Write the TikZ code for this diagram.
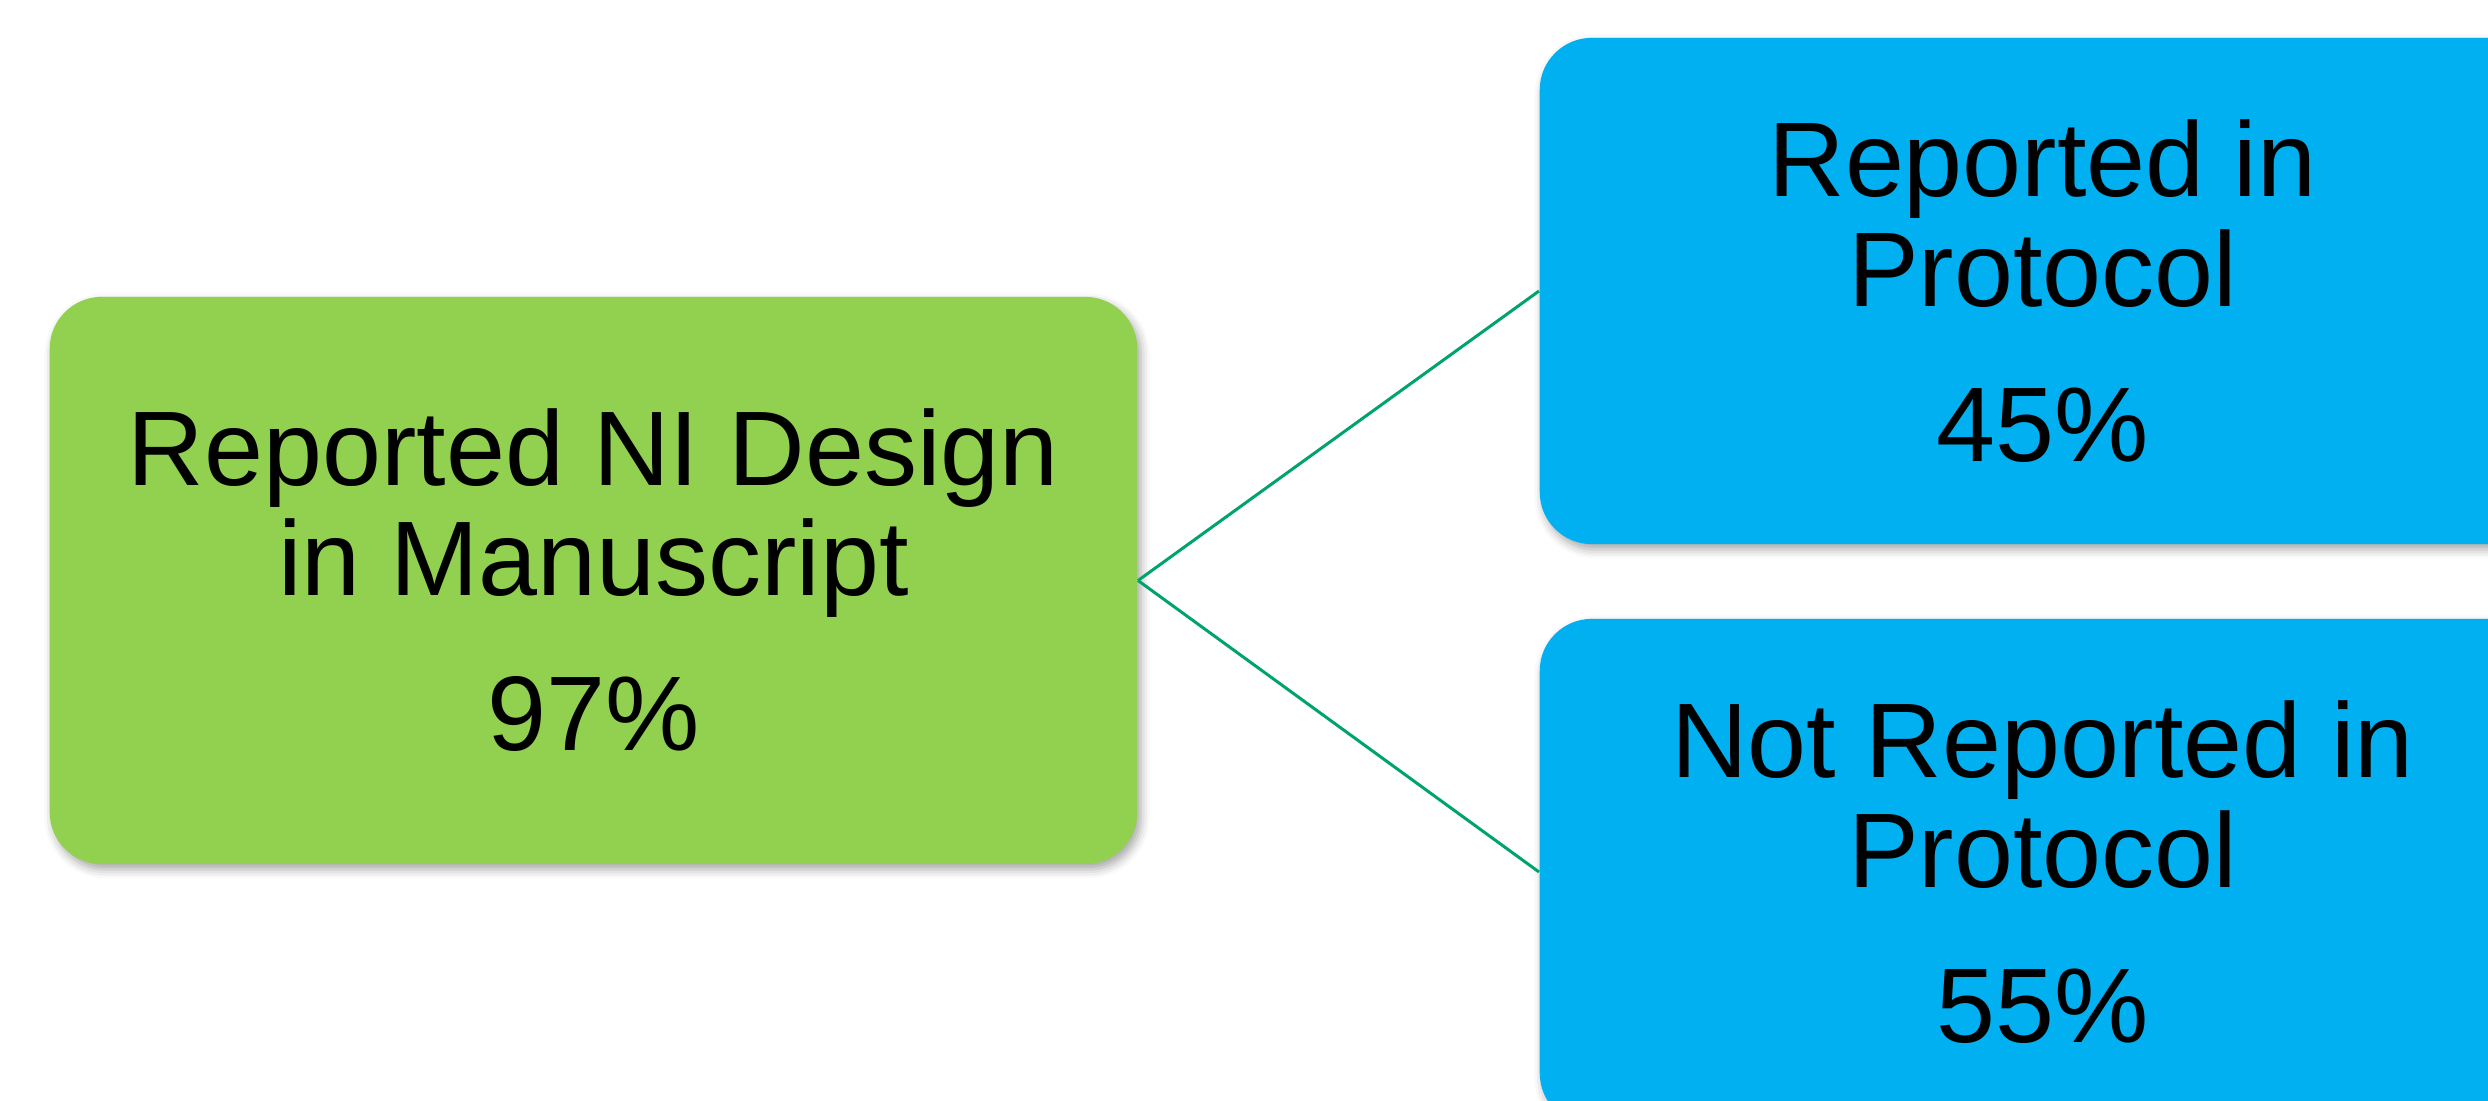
\documentclass[tikz,border=0pt]{standalone}
\usepackage{fontspec}
\setmainfont{Liberation Sans}
\usetikzlibrary{shadows.blur}
\definecolor{boxgreen}{RGB}{146,208,80}
\definecolor{boxblue}{RGB}{0,176,240}
\definecolor{linkgreen}{RGB}{0,163,110}
\begin{document}
\begin{tikzpicture}[x=0.01cm,y=-0.01cm,
  box/.style={rounded corners=0.52cm, align=center, text=black,
    font=\fontsize{30.15}{31.2}\selectfont, inner sep=0pt,
    blur shadow={shadow xshift=1pt, shadow yshift=-1.5pt, shadow blur radius=2.5pt, shadow opacity=35}},
  greenbox/.style={box, fill=boxgreen, minimum width=10.87cm, minimum height=5.67cm},
  bluebox/.style={box, fill=boxblue, minimum width=10.05cm, minimum height=5.06cm},
  link/.style={draw=linkgreen, line width=0.85pt}]
\useasboundingbox (0,0) rectangle (2488,1100);
\clip (0,0) rectangle (2488,1100);
\node[greenbox] (ms) at (593.5,580.5) {Reported NI Design\\in Manuscript\\[13pt]97\%};
\node[bluebox] (rp) at (2042.5,291) {Reported in\\Protocol\\[13pt]45\%};
\node[bluebox] (np) at (2042.5,872) {Not Reported in\\Protocol\\[13pt]55\%};
\draw[link] (ms.east) -- (rp.west);
\draw[link] (ms.east) -- (np.west);
\end{tikzpicture}
\end{document}
